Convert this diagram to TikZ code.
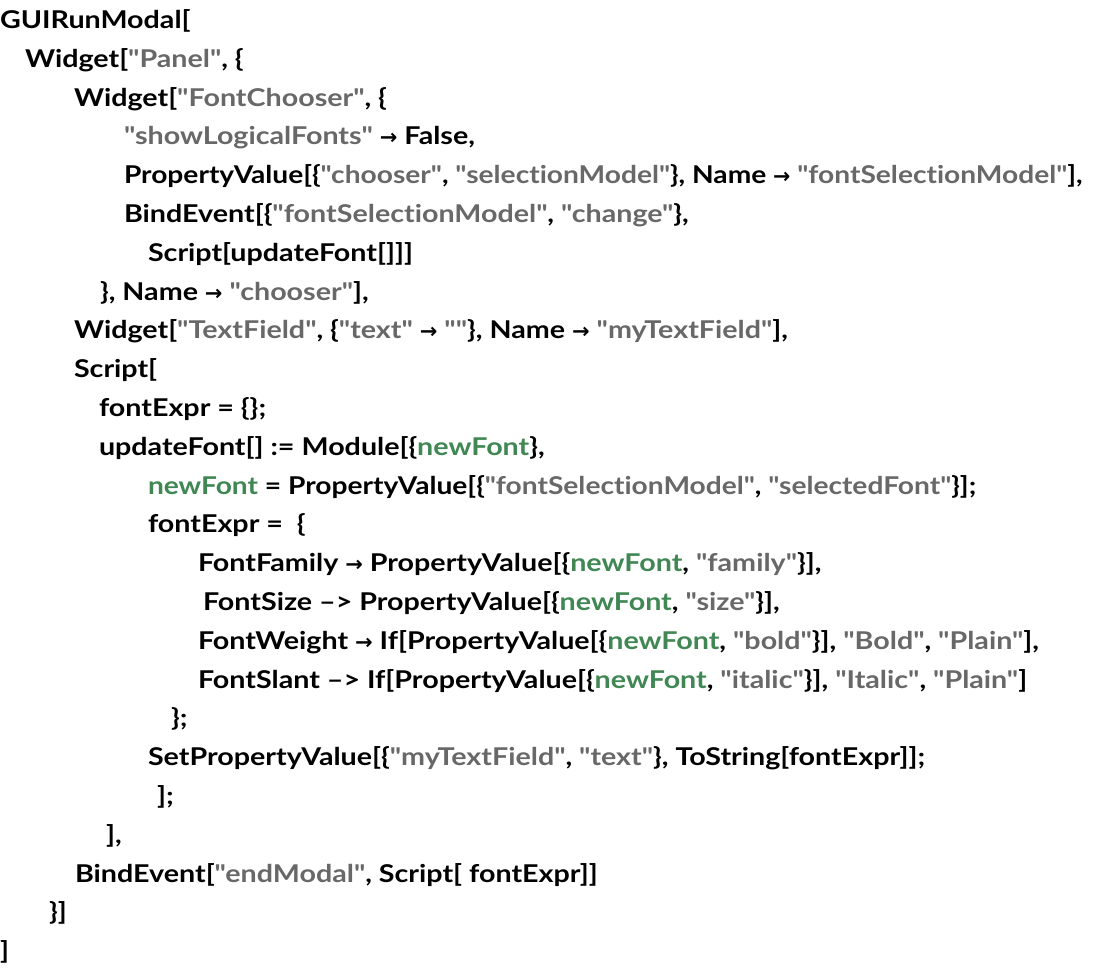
\documentclass[tikz,border=0pt]{standalone}
\usepackage{fontspec}
\setmainfont{Lato}[UprightFont=* Bold, Ligatures={TeXOff,NoCommon}, FakeStretch=1.17]
\newfontfamily\arrowfont{DejaVu Sans}[UprightFont=* Bold]
\definecolor{strgray}{RGB}{104,104,104}
\definecolor{locgreen}{RGB}{64,135,84}
\newcommand{\Sv}[1]{\textcolor{strgray}{#1}}
\newcommand{\Gv}[1]{\textcolor{locgreen}{#1}}
\newcommand{\Ar}{{\arrowfont\fontsize{21pt}{21pt}\selectfont →}}
\begin{document}
\begin{tikzpicture}[
  ln/.style={anchor=base west, inner sep=0pt, outer sep=0pt, text=black,
    font=\fontsize{24.5pt}{28pt}\selectfont},
  narrow/.style={transform shape, xscale=0.982}
]
\useasboundingbox[fill=white] (0pt,0pt) rectangle (1093pt,-969pt);
\def\bl#1{\fpeval{-(28.5+(#1-1)*38.8)}pt}
\node[ln] (l1)  at (0pt,\bl{1}) {GUIRunModal[};
\node[ln] (l2)  at (25pt,\bl{2}) {Widget[\Sv{"Panel"}, \{};
\node[ln] (l3)  at (74pt,\bl{3}) {Widget[\Sv{"FontChooser"}, \{};
\node[ln] (l4)  at (124pt,\bl{4}) {\Sv{"showLogicalFonts"} \Ar{} False,};
\node[ln,narrow] (l5)  at (124pt,\bl{5}) {PropertyValue[\{\Sv{"chooser"}, \Sv{"selectionModel"}\}, Name \Ar{} \Sv{"fontSelectionModel"}],};
\node[ln] (l6)  at (124pt,\bl{6}) {BindEvent[\{\Sv{"fontSelectionModel"}, \Sv{"change"}\},};
\node[ln] (l7)  at (148pt,\bl{7}) {Script[updateFont[]]]};
\node[ln] (l8)  at (100pt,\bl{8}) {\}, Name \Ar{} \Sv{"chooser"}],};
\node[ln] (l9)  at (74pt,\bl{9}) {Widget[\Sv{"TextField"}, \{\Sv{"text"} \Ar{} \Sv{""}\}, Name \Ar{} \Sv{"myTextField"}],};
\node[ln] (l10) at (74pt,\bl{10}) {Script[};
\node[ln] (l11) at (99pt,\bl{11}) {fontExpr = \{\};};
\node[ln] (l12) at (99pt,\bl{12}) {updateFont[] := Module[\{\Gv{newFont}\},};
\node[ln,narrow] (l13) at (148pt,\bl{13}) {\Gv{newFont} = PropertyValue[\{\Sv{"fontSelectionModel"}, \Sv{"selectedFont"}\}];};
\node[ln] (l14) at (148pt,\bl{14}) {fontExpr =\ \ \{};
\node[ln] (l15) at (198pt,\bl{15}) {FontFamily \Ar{} PropertyValue[\{\Gv{newFont}, \Sv{"family"}\}],};
\node[ln] (l16) at (203pt,\bl{16}) {FontSize –> PropertyValue[\{\Gv{newFont}, \Sv{"size"}\}],};
\node[ln] (l17) at (198pt,\bl{17}) {FontWeight \Ar{} If[PropertyValue[\{\Gv{newFont}, \Sv{"bold"}\}], \Sv{"Bold"}, \Sv{"Plain"}],};
\node[ln] (l18) at (198pt,\bl{18}) {FontSlant –> If[PropertyValue[\{\Gv{newFont}, \Sv{"italic"}\}], \Sv{"Italic"}, \Sv{"Plain"}]};
\node[ln] (l19) at (171pt,\bl{19}) {\};};
\node[ln] (l20) at (148pt,\bl{20}) {SetPropertyValue[\{\Sv{"myTextField"}, \Sv{"text"}\}, ToString[fontExpr]];};
\node[ln] (l21) at (157pt,\bl{21}) {];};
\node[ln] (l22) at (106pt,\bl{22}) {],};
\node[ln] (l23) at (75pt,\bl{23}) {BindEvent[\Sv{"endModal"}, Script[ fontExpr]]};
\node[ln] (l24) at (49pt,\bl{24}) {\}]};
\node[ln] (l25) at (0pt,\bl{25}) {]};
\end{tikzpicture}
\end{document}
